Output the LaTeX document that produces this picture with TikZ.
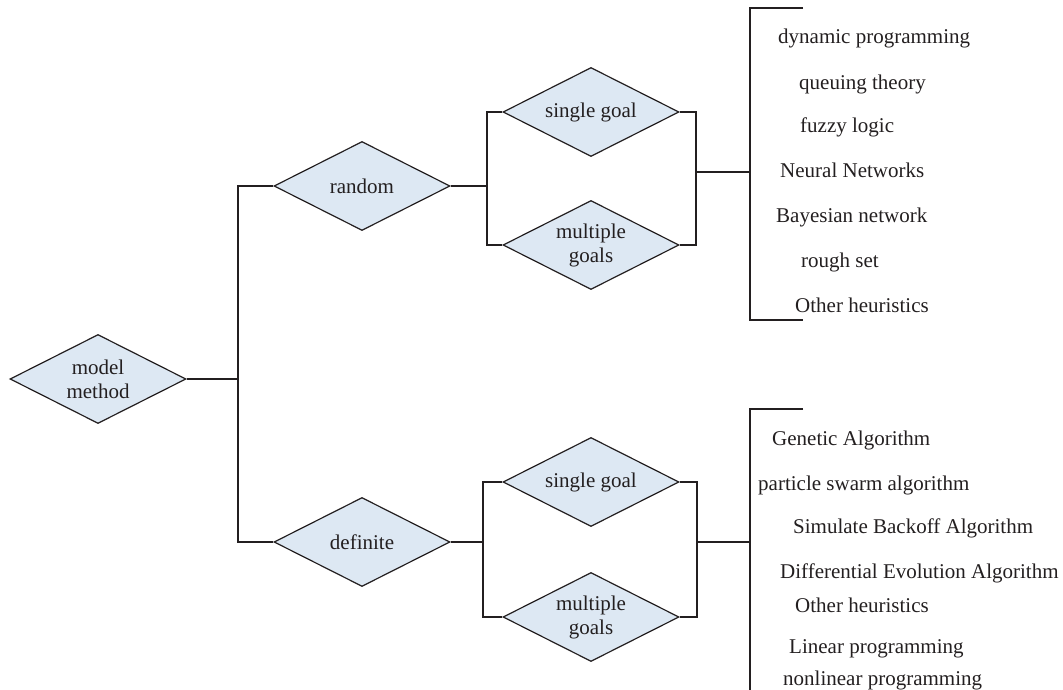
\documentclass[tikz,border=0pt]{standalone}
\usepackage{fontspec}
\setmainfont{Liberation Serif}
\usetikzlibrary{shapes.geometric}
\definecolor{boxblue}{RGB}{221,232,243}
\definecolor{ink}{RGB}{35,31,32}
\begin{document}
\begin{tikzpicture}[x=1pt,y=-1pt]
    \tikzset{
        choice/.style={diamond,draw=ink,fill=boxblue,line width=1.2pt,minimum width=176pt,minimum height=89pt,inner sep=0pt,aspect=2,align=center,text=ink,font=\fontsize{21}{24}\selectfont},
        item/.style={anchor=base west,inner sep=0pt,text=ink,font=\fontsize{21}{24}\selectfont},
        link/.style={draw=ink,line width=1.2pt}}
    \useasboundingbox (0,0) rectangle (1063,690);
    % diamonds
    \node[choice] (mm) at (98,379) {model\\method};
    \node[choice] (rnd) at (362,186) {random};
    \node[choice] (def) at (362,542) {definite};
    \node[choice] (rsg) at (591,112) {single goal};
    \node[choice] (rmg) at (591,245) {multiple\\goals};
    \node[choice] (dsg) at (591,482) {single goal};
    \node[choice] (dmg) at (591,617) {multiple\\goals};
    % connectors
    \coordinate (trunk) at (238,379);
    \draw[link] (mm.east) -- (trunk);
    \draw[link] (rnd.west) -| (trunk) |- (def.west);
    \coordinate (rfork) at (487,186);
    \coordinate (rjoin) at (696,172);
    \coordinate (rbar) at (750,172);
    \draw[link] (rnd.east) -- (rfork);
    \draw[link] (rsg.west) -| (rfork) |- (rmg.west);
    \draw[link] (rsg.east) -| (rjoin) |- (rmg.east);
    \draw[link] (rjoin) -- (rbar);
    \coordinate (dfork) at (483,542);
    \coordinate (djoin) at (697,542);
    \coordinate (dbar) at (750,542);
    \draw[link] (def.east) -- (dfork);
    \draw[link] (dsg.west) -| (dfork) |- (dmg.west);
    \draw[link] (dsg.east) -| (djoin) |- (dmg.east);
    \draw[link] (djoin) -- (dbar);
    % brackets
    \coordinate (rtop) at (803,8);
    \coordinate (rbot) at (803,320);
    \draw[link] (rtop) -- ++(-53,0) |- (rbot);
    \coordinate (dtop) at (803,409);
    \draw[link] (dtop) -- ++(-53,0) -- (750,690);
    % method lists
    \foreach \x/\y/\t [count=\i] in {778/44/dynamic programming, 799/90/queuing theory,
        800/133/fuzzy logic, 780/178/Neural Networks, 776/222/Bayesian network,
        801/267/rough set, 795/312/Other heuristics}
        \node[item] (ra\i) at (\x,\y) {\t};
    \foreach \x/\y/\t [count=\i] in {772/445/Genetic Algorithm, 758/490/particle swarm algorithm,
        793/533/Simulate Backoff Algorithm, 780/578/Differential Evolution Algorithm,
        795/612/Other heuristics, 789/653/Linear programming, 783/685/nonlinear programming}
        \node[item] (de\i) at (\x,\y) {\t};
\end{tikzpicture}
\end{document}
